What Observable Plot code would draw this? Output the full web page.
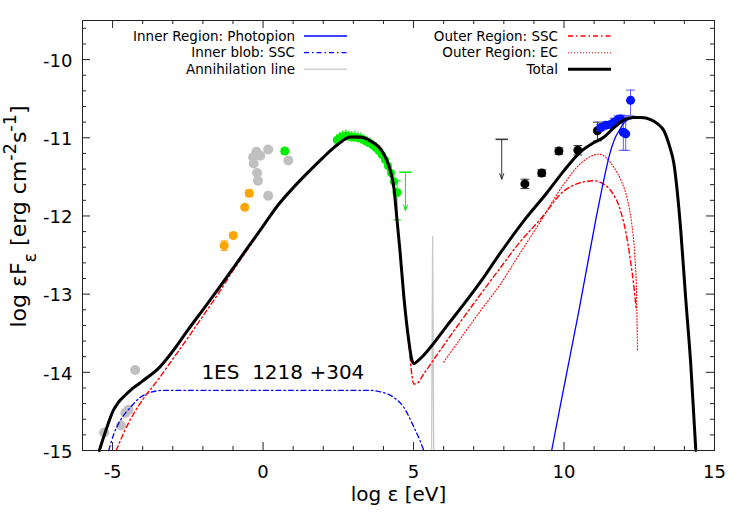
<!DOCTYPE html>
<html><head><meta charset="utf-8">
<script src="https://cdn.jsdelivr.net/npm/d3@7"></script>
<script src="https://cdn.jsdelivr.net/npm/@observablehq/plot@0.6"></script>
<style>body{margin:0;background:#fff;}</style>
</head><body><div id="chart"></div>
<script>
// ---------- axis ticks ----------
const xMajorTicks = [-5, 0, 5, 10, 15];
const xMinorTicks = [-4, -3, -2, -1, 1, 2, 3, 4, 6, 7, 8, 9, 11, 12, 13, 14];
const yMajorTicks = [-15, -14, -13, -12, -11, -10];
const yMinorTicks = [-14.8, -14.6, -14.4, -14.2, -13.8, -13.6, -13.4, -13.2, -12.8, -12.6, -12.4, -12.2,
  -11.8, -11.6, -11.4, -11.2, -10.8, -10.6, -10.4, -10.2, -9.8, -9.6];

// ---------- model curves (log eps [eV], log eps F_eps) ----------
const totalE = [-5.44, -5.3, -5.15, -4.98, -4.8, -4.6, -4.41, -4.1, -3.86, -3.5, -3.0, -2.5, -2.0, -1.5, -1.0, -0.5, 0.0, 0.5, 1.0, 1.5, 2.0, 2.5, 2.9, 3.2, 3.57, 4.0, 4.23, 4.35, 4.45, 4.55, 4.68, 4.84, 4.93, 5.01, 5.15, 5.34, 6.12, 7.23, 7.89, 8.67, 9.44, 10.0, 10.55, 11.0, 11.33, 11.66, 11.99, 12.3, 12.55, 12.9, 13.1, 13.32, 13.5, 13.65, 13.88, 14.04, 14.21, 14.38];
const totalF = [-15, -14.83, -14.66, -14.49, -14.38, -14.3, -14.23, -14.14, -14.07, -13.96, -13.73, -13.46, -13.2, -12.94, -12.67, -12.4, -12.13, -11.86, -11.64, -11.44, -11.25, -11.08, -10.99, -10.99, -11.04, -11.2, -11.42, -11.65, -12.05, -12.45, -13.04, -13.59, -13.82, -13.89, -13.85, -13.78, -13.4, -12.84, -12.47, -12.06, -11.7, -11.42, -11.18, -11.06, -10.99, -10.87, -10.77, -10.74, -10.74, -10.77, -10.82, -10.91, -11.1, -11.33, -12.19, -13.04, -13.89, -15];

const photopionE = [9.59, 9.89, 10.5, 11.05, 11.3, 11.49, 11.7, 11.88, 12.0, 12.3, 12.55, 12.9, 13.1, 13.32, 13.5, 13.65, 13.88, 14.04, 14.21, 14.38];
const photopionF = [-15, -14.4, -13.2, -12.06, -11.58, -11.25, -11.0, -10.88, -10.8, -10.75, -10.745, -10.775, -10.825, -10.915, -11.1, -11.335, -12.195, -13.045, -13.895, -15];

const innerSscE = [-5.13, -4.95, -4.75, -4.41, -4.08, -3.69, -3.3, -2.0, 0.0, 2.0, 3.5, 3.9, 4.34, 4.68, 5.01, 5.2, 5.34];
const innerSscF = [-15, -14.78, -14.62, -14.45, -14.32, -14.25, -14.23, -14.23, -14.23, -14.23, -14.23, -14.25, -14.32, -14.45, -14.7, -14.86, -15];

const annihE = [5.6, 5.635, 5.67];
const annihF = [-15, -12.26, -15];

const outerSscE = [-4.88, -4.6, -4.3, -4.0, -3.5, -3.0, -2.5, -2.0, -1.5, -1.0, -0.5, 0.0, 0.5, 1.0, 1.5, 2.0, 2.5, 2.9, 3.2, 3.57, 4.0, 4.23, 4.35, 4.45, 4.55, 4.68, 4.84, 4.95, 5.01, 5.12, 5.34, 6.12, 7.23, 7.89, 8.5, 9.22, 10.0, 10.5, 10.99, 11.3, 11.6, 11.85, 12.05, 12.2, 12.32, 12.4];
const outerSscF = [-15, -14.75, -14.53, -14.35, -14.1, -13.83, -13.56, -13.28, -13.0, -12.7, -12.42, -12.14, -11.87, -11.65, -11.45, -11.26, -11.09, -11.0, -11.0, -11.05, -11.21, -11.43, -11.66, -12.06, -12.46, -13.05, -13.62, -14.05, -14.15, -14.14, -14.02, -13.59, -13.0, -12.66, -12.35, -12.04, -11.68, -11.58, -11.55, -11.59, -11.7, -11.9, -12.2, -12.55, -12.9, -13.2];

const outerEcE = [6.0, 6.5, 7.23, 7.89, 8.5, 9.17, 10.0, 10.55, 11.16, 11.66, 11.9, 12.1, 12.25, 12.35, 12.41, 12.44];
const outerEcF = [-13.87, -13.6, -13.21, -12.87, -12.5, -12.1, -11.59, -11.33, -11.21, -11.38, -11.55, -11.78, -12.1, -12.5, -13.0, -13.72];

// ---------- observations ----------
const grayE = [-5.28, -4.72, -4.58, -4.47, -4.25, -0.33, -0.31, -0.22, -0.09, 0.17, -0.2, -0.17, 0.84, 0.17];
const grayF = [-14.77, -14.68, -14.52, -14.48, -13.97, -11.25, -11.33, -11.18, -11.23, -11.15, -11.45, -11.55, -11.29, -11.74];

const orangeE = [-1.29, -0.99, -0.61, -0.46];
const orangeF = [-12.38, -12.25, -11.89, -11.71];
const orangeErr = [0.06, 0.03, 0.03, 0.04];

const greenOptE = [0.72];
const greenOptF = [-11.17];
const greenOptErr = [0.03];

const xrayE = [2.45, 2.55, 2.65, 2.75, 2.85, 2.95, 3.05, 3.15, 3.25, 3.35, 3.45, 3.55, 3.65, 3.75, 3.85, 3.95, 4.05, 4.15, 4.25, 4.35];
const xrayF = [-11.03, -11.0, -10.98, -10.97, -10.98, -10.99, -10.99, -11.0, -11.01, -11.03, -11.05, -11.07, -11.1, -11.13, -11.17, -11.22, -11.28, -11.36, -11.45, -11.56];
const xrayErrE = 0.08;
const xrayErrF = 0.07;

const greenLastE = [4.45];
const greenLastF = [-11.7];
const greenLastHi = [-11.55];
const greenLastLo = [-12.05];

const blackE = [8.7, 9.26, 9.83, 10.46, 11.11];
const blackF = [-11.59, -11.45, -11.17, -11.16, -10.91];
const blackHi = [-11.53, -11.41, -11.13, -11.1, -10.8];
const blackLo = [-11.65, -11.49, -11.21, -11.22, -11.04];

const blueE = [11.22, 11.38, 11.55, 11.66, 11.79, 11.88, 11.97, 12.05, 12.21];
const blueF = [-10.87, -10.84, -10.83, -10.8, -10.77, -10.76, -10.93, -10.95, -10.52];
const blueHi = [-10.83, -10.8, -10.79, -10.75, -10.72, -10.71, -10.72, -10.72, -10.39];
const blueLo = [-10.91, -10.88, -10.87, -10.85, -10.82, -10.81, -11.16, -11.16, -10.72];

// upper limits: [energy, cap, arrow tip]
const ulBlack = [{e: 7.93, top: -11.02, tip: -11.53}];
const ulGreen = [{e: 4.73, top: -11.44, tip: -11.93}];

const legendLeft = ["Inner Region: Photopion", "Inner blob: SSC", "Annihilation line"];
const legendRight = ["Outer Region: SSC", "Outer Region: EC", "Total"];
const sourceName = "1ES  1218 +304";
const xTitle = "log ε [eV]";
const yTitle = "log εFε [erg cm-2s-1]";

// ---------- build ----------
const rows = (xs, ys) => xs.map((x, i) => ({x, y: ys[i]}));
const xMin = -6, xMax = 15, yMin = -15, yMax = -9.5;
const W = 747, H = 514, mL = 82, mR = 33, mT = 20, mB = 64;
const kx = (xMax - xMin) / (W - mL - mR);
const ky = (yMax - yMin) / (H - mT - mB);
const axisColor = "#222";
const green = "#00ee00";

const capSymbol = {draw(ctx, size) { const w = Math.sqrt(size); ctx.moveTo(-w, 0); ctx.lineTo(w, 0); }};
function errorBars(E, lo, hi, color, capR) {
  const d = E.map((e, i) => ({x: e, lo: lo[i], hi: hi[i]}));
  return [
    Plot.ruleX(d, {x: "x", y1: "lo", y2: "hi", stroke: color, strokeWidth: 1}),
    Plot.dot(d, {x: "x", y: "lo", symbol: capSymbol, r: capR, stroke: color, fill: "none", strokeWidth: 1}),
    Plot.dot(d, {x: "x", y: "hi", symbol: capSymbol, r: capR, stroke: color, fill: "none", strokeWidth: 1})
  ];
}

const xray = xrayE.map((e, i) => ({x: e, y: xrayF[i]}));

const marks = [
  // ticks (inward, mirrored)
  Plot.ruleX(xMajorTicks, {x: d => d, y1: yMin, y2: yMin + 8 * ky, stroke: axisColor}),
  Plot.ruleX(xMinorTicks, {x: d => d, y1: yMin, y2: yMin + 4 * ky, stroke: axisColor}),
  Plot.ruleX(xMajorTicks, {x: d => d, y1: yMax - 8 * ky, y2: yMax, stroke: axisColor}),
  Plot.ruleX(xMinorTicks, {x: d => d, y1: yMax - 4 * ky, y2: yMax, stroke: axisColor}),
  Plot.ruleY(yMajorTicks, {y: d => d, x1: xMin, x2: xMin + 8 * kx, stroke: axisColor}),
  Plot.ruleY(yMinorTicks, {y: d => d, x1: xMin, x2: xMin + 4 * kx, stroke: axisColor}),
  Plot.ruleY(yMajorTicks, {y: d => d, x1: xMax - 8 * kx, x2: xMax, stroke: axisColor}),
  Plot.ruleY(yMinorTicks, {y: d => d, x1: xMax - 4 * kx, x2: xMax, stroke: axisColor}),
  Plot.axisX({ticks: xMajorTicks, tickSize: 0, tickPadding: 15, fontSize: 18, label: null, tickFormat: d => String(d)}),
  Plot.axisY({ticks: yMajorTicks, tickSize: 0, tickPadding: 10, fontSize: 18, label: null, tickFormat: d => String(d), dy: 1.5}),

  // data points
  Plot.dot(rows(grayE, grayF), {x: "x", y: "y", r: 5, fill: "#c0c0c0"}),
  ...errorBars(orangeE, orangeE.map((e, i) => orangeF[i] - orangeErr[i]), orangeE.map((e, i) => orangeF[i] + orangeErr[i]), "#ffa500", 2.2),
  Plot.dot(rows(orangeE, orangeF), {x: "x", y: "y", r: 4.5, fill: "#ffa500"}),
  ...errorBars(greenOptE, greenOptE.map((e, i) => greenOptF[i] - greenOptErr[i]), greenOptE.map((e, i) => greenOptF[i] + greenOptErr[i]), green, 2.2),
  Plot.dot(rows(greenOptE, greenOptF), {x: "x", y: "y", r: 4.5, fill: green}),
  Plot.ruleY(xray, {y: "y", x1: d => d.x - xrayErrE, x2: d => d.x + xrayErrE, stroke: green, strokeWidth: 1.2}),
  Plot.ruleX(xray, {x: "x", y1: d => d.y - xrayErrF, y2: d => d.y + xrayErrF, stroke: green, strokeWidth: 1.2}),
  Plot.dot(xray, {x: "x", y: "y", r: 4, fill: green}),
  ...errorBars(greenLastE, greenLastLo, greenLastHi, green, 2.2),
  Plot.dot(rows(greenLastE, greenLastF), {x: "x", y: "y", r: 4.5, fill: green}),
  Plot.arrow(ulGreen, {x1: "e", y1: "top", x2: "e", y2: "tip", stroke: green, strokeWidth: 1, headLength: 9, headAngle: 40}),
  Plot.dot(ulGreen, {x: "e", y: "top", symbol: capSymbol, r: 3.5, stroke: green, fill: "none"}),
  Plot.arrow(ulBlack, {x1: "e", y1: "top", x2: "e", y2: "tip", stroke: "#333", strokeWidth: 1, headLength: 9, headAngle: 40}),
  Plot.dot(ulBlack, {x: "e", y: "top", symbol: capSymbol, r: 3.5, stroke: "#333", fill: "none"}),
  ...errorBars(blackE, blackLo, blackHi, "#333", 2.5),
  Plot.dot(rows(blackE, blackF), {x: "x", y: "y", r: 4.5, fill: "black"}),
  ...errorBars(blueE, blueLo, blueHi, "#5a5aff", 2.5),
  Plot.dot(rows(blueE, blueF), {x: "x", y: "y", r: 4.5, fill: "#0014ff"}),

  // model curves
  Plot.line(rows(annihE, annihF), {x: "x", y: "y", stroke: "#c8c8c8", strokeWidth: 1.3}),
  Plot.line(rows(innerSscE, innerSscF), {x: "x", y: "y", stroke: "#0000ff", strokeWidth: 1.3, strokeDasharray: "5,3,1.5,3", curve: "monotone-x"}),
  Plot.line(rows(outerEcE, outerEcF), {x: "x", y: "y", stroke: "#ff0000", strokeWidth: 1.1, strokeDasharray: "1,2", curve: "monotone-x"}),
  Plot.line(rows(outerSscE, outerSscF), {x: "x", y: "y", stroke: "#ff0000", strokeWidth: 1.4, strokeDasharray: "5,3,1.5,3", curve: "monotone-x"}),
  Plot.line(rows(photopionE, photopionF), {x: "x", y: "y", stroke: "#0000ff", strokeWidth: 1.3, curve: "monotone-x"}),
  Plot.line(rows(totalE, totalF), {x: "x", y: "y", stroke: "black", strokeWidth: 3, curve: "monotone-x"}),

  Plot.text([sourceName], {x: -2.05, y: -14.0, text: d => d, textAnchor: "start", fontSize: 20, fill: "black"}),
  Plot.text([xTitle], {frameAnchor: "bottom", dy: 50, text: d => d, textAnchor: "middle", fontSize: 20, fill: "black"}),
  Plot.text([yTitle], {frameAnchor: "left", dx: -64, dy: -19, rotate: -90, text: d => d, textAnchor: "middle", fontSize: 22, fill: "black"}),
  Plot.frame({stroke: axisColor, strokeWidth: 1})
];

const svg = Plot.plot({
  width: W, height: H,
  marginLeft: mL, marginRight: mR, marginTop: mT, marginBottom: mB,
  x: {domain: [xMin, xMax]},
  y: {domain: [yMin, yMax]},
  style: {fontFamily: "DejaVu Sans", background: "white", whiteSpace: "pre", color: "black"},
  marks
});

// rich text for the y title (sub/superscripts)
d3.select(svg).selectAll("text").filter(function() { return this.textContent === yTitle; }).each(function() {
  const t = d3.select(this);
  t.text(null);
  const parts = [["log εF", null], ["ε", "sub"], [" [erg cm", null], ["-2", "super"], ["s", null], ["-1", "super"], ["]", null]];
  for (const [s, shift] of parts) {
    const ts = t.append("tspan").text(s);
    if (shift) ts.attr("baseline-shift", shift).attr("font-size", "80%");
  }
});

// legend (inside the frame, top)
const lg = d3.select(svg).append("g").attr("font-family", "DejaVu Sans").attr("font-size", 13.5);
const rowsY = [36, 52.7, 69.3];
const leftStyles = [
  {stroke: "#0000ff", w: 1.3, dash: null},
  {stroke: "#0000ff", w: 1.3, dash: "5,3,1.5,3"},
  {stroke: "#d0d0d0", w: 1.5, dash: null}
];
const rightStyles = [
  {stroke: "#ff0000", w: 1.4, dash: "5,3,1.5,3"},
  {stroke: "#ff0000", w: 1.1, dash: "1,2"},
  {stroke: "black", w: 3, dash: null}
];
function legendGroup(labels, styles, textRight, lineX1, lineX2) {
  labels.forEach((lab, i) => {
    lg.append("text").attr("x", textRight).attr("y", rowsY[i]).attr("dy", "0.35em")
      .attr("text-anchor", "end").attr("fill", "black").text(lab);
    const s = styles[i];
    const ln = lg.append("line").attr("x1", lineX1).attr("x2", lineX2).attr("y1", rowsY[i]).attr("y2", rowsY[i])
      .attr("stroke", s.stroke).attr("stroke-width", s.w);
    if (s.dash) ln.attr("stroke-dasharray", s.dash);
  });
}
legendGroup(legendLeft, leftStyles, 295, 304, 347);
legendGroup(legendRight, rightStyles, 558, 568, 611);

document.getElementById("chart").appendChild(svg);
</script></body></html>
